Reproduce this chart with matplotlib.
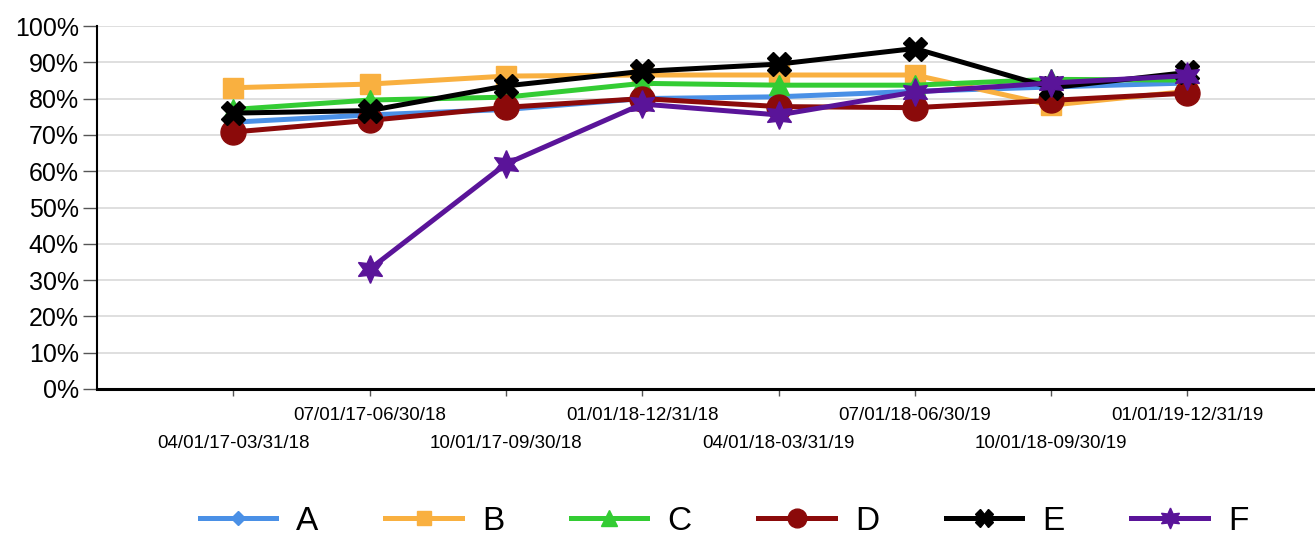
import numpy as np
import matplotlib
matplotlib.use("Agg")
import matplotlib.pyplot as plt
from matplotlib.ticker import PercentFormatter

plt.rcParams['font.family'] = ['Liberation Sans', 'DejaVu Sans']

# Data (percent)
periods = ['04/01/17-03/31/18', '07/01/17-06/30/18', '10/01/17-09/30/18',
           '01/01/18-12/31/18', '04/01/18-03/31/19', '07/01/18-06/30/19',
           '10/01/18-09/30/19', '01/01/19-12/31/19']
series_a = [73.5, 75.5, 77.0, 80.0, 80.5, 82.0, 83.2, 84.3]
series_b = [83.0, 84.0, 86.2, 86.5, 86.5, 86.5, 78.2, 82.0]
series_c = [77.0, 79.6, 80.4, 84.2, 83.7, 83.7, 85.3, 85.1]
series_d = [70.8, 74.0, 77.6, 80.0, 77.8, 77.5, 79.5, 81.5]
series_e = [76.0, 76.7, 83.5, 87.5, 89.5, 93.8, 83.0, 87.2]
series_f = [np.nan, 33.0, 62.0, 78.5, 75.5, 81.8, 84.3, 86.3]

names = ['A', 'B', 'C', 'D', 'E', 'F']
values = [series_a, series_b, series_c, series_d, series_e, series_f]
colors = ['#4a90e6', '#f9b040', '#33cc33', '#8b0a0a', '#000000', '#5a1499']
markers = ['D', 's', '^', 'o', 'X', (6, 1, 0)]
msizes = [9, 14, 15, 18, 17, 20]

fig = plt.figure(figsize=(13.15, 5.37), dpi=100)
ax = fig.add_axes([97 / 1315, 1 - 389 / 537, 9 * 136.3 / 1315, 363 / 537])

x = np.arange(1, len(periods) + 1)
for name, vals, col, mk, ms in zip(names, values, colors, markers, msizes):
    ax.plot(x, vals, color=col, lw=3.6, marker=mk, markersize=ms,
            markeredgecolor=col, label=name)

ax.set_xlim(0, 9)
ax.set_ylim(0, 100)
ax.set_yticks(np.arange(0, 101, 10))
ax.yaxis.set_major_formatter(PercentFormatter(decimals=0))
ax.grid(axis='y', color='#d9d9d9', lw=1.2)
ax.set_axisbelow(True)

ax.set_xticks(x)
ax.set_xticklabels(periods, fontsize=13.5)

ax.tick_params(axis='y', labelsize=18, length=10, width=1, color='#555555', pad=3)
ax.tick_params(axis='x', length=5, width=1, color='#555555', pad=8)

# alternate the x labels on two rows (first label on the lower row)
for i, tick in enumerate(ax.xaxis.get_major_ticks()):
    if i % 2 == 0:
        tick.set_pad(28)

for side in ['top', 'right']:
    ax.spines[side].set_visible(False)
ax.spines['left'].set_linewidth(1.5)
ax.spines['bottom'].set_linewidth(2.2)

fig.legend(loc='lower center', bbox_to_anchor=(724 / 1315, -0.055), ncol=6,
           frameon=False, fontsize=24, handlelength=2.3, columnspacing=2.0,
           handletextpad=0.6, markerscale=0.75)

fig.savefig('out.png', dpi=100)
